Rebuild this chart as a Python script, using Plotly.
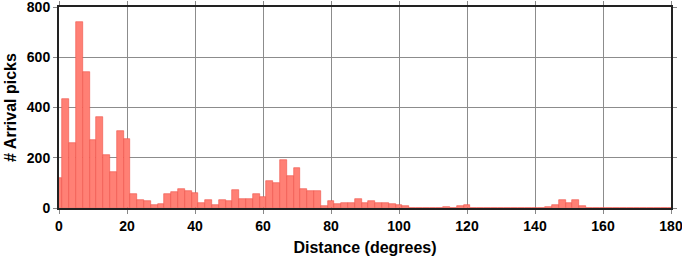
import plotly.graph_objects as go

bin_centers = list(range(0, 182, 2))
counts = [119, 432, 258, 739, 541, 271, 362, 212, 144, 307,
          275, 54, 33, 29, 10, 16, 55, 62, 75, 67,
          60, 18, 32, 10, 32, 28, 71, 36, 36, 54,
          44, 107, 99, 192, 127, 161, 75, 67, 67, 8,
          28, 16, 20, 20, 36, 18, 28, 20, 20, 14,
          10, 9, 2, 2, 1, 2, 1, 5, 2, 6,
          12, 2, 1, 1, 1, 0, 1, 1, 0, 1,
          1, 1, 3, 12, 32, 19, 32, 6, 1, 0,
          0, 0, 0, 0, 0, 0, 0, 0, 0, 0, 0]
x_ticks = [0, 20, 40, 60, 80, 100, 120, 140, 160, 180]
y_ticks = [0, 200, 400, 600, 800]

FAM = "Liberation Sans, Arial, sans-serif"
tick_font = dict(family=FAM, size=14, color="black", weight="bold")
title_font = dict(family=FAM, size=16, color="black", weight="bold")

fig = go.Figure()
fig.add_trace(go.Bar(
    x=bin_centers, y=counts, width=2,
    marker=dict(color="#FF8075", line=dict(color="#EE5048", width=0.6)),
))
fig.update_layout(
    width=682, height=258,
    margin=dict(l=59, r=11, t=7, b=50),
    plot_bgcolor="white", paper_bgcolor="white",
    showlegend=False, bargap=0,
    font=tick_font,
)
fig.update_xaxes(
    range=[0, 180], tickvals=x_ticks, ticktext=[str(v) for v in x_ticks],
    showgrid=True, gridcolor="#8c8c8c", gridwidth=1,
    showline=True, linecolor="#222", linewidth=2, mirror="ticks",
    ticks="outside", ticklen=4, tickcolor="#888", tickwidth=1,
    tickfont=tick_font, zeroline=False, automargin=False,
    ticklabeloverflow="allow",
    title=dict(text="Distance (degrees)", font=title_font, standoff=9),
)
fig.update_yaxes(
    range=[0, 800], tickvals=y_ticks, ticktext=[str(v) for v in y_ticks],
    showgrid=True, gridcolor="#8c8c8c", gridwidth=1,
    showline=True, linecolor="#222", linewidth=2, mirror="ticks",
    ticks="outside", ticklen=4, tickcolor="#888", tickwidth=1,
    tickfont=tick_font, zeroline=False, automargin=False,
    ticklabeloverflow="allow",
    title=dict(text="# Arrival picks", font=title_font, standoff=6),
)
fig.write_html("out.html")
